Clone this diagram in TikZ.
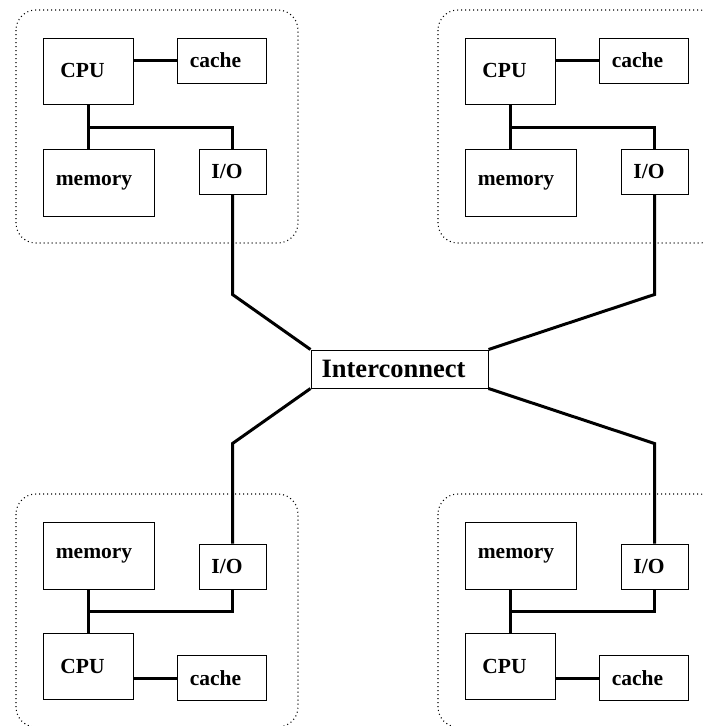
\documentclass[tikz,border=0pt]{standalone}
\usepackage{fontspec}
\setmainfont{Liberation Serif}
\tikzset{
  unit/.style={draw, line width=1pt, inner sep=0pt, font=\fontsize{21.5}{25}\selectfont\bfseries},
  wire/.style={line width=3pt},
  grp/.style={line width=1.1pt, dash pattern=on 1pt off 3pt, rounded corners=20pt},
  clustertop/.pic={
    \draw[grp] (16,10) rectangle (298,243);
    \node[unit, minimum width=90pt, minimum height=66pt] (-cpu) at (88,71) {\raisebox{1pt}{CPU}\kern11pt};
    \node[unit, minimum width=89pt, minimum height=45pt] (-cache) at (221.5,60.5) {cache\kern12pt};
    \node[unit, minimum width=111pt, minimum height=67pt] (-mem) at (98.5,182.5) {memory\kern9pt};
    \node[unit, minimum width=67pt, minimum height=45pt] (-io) at (232.5,171.5) {I/O\kern11pt};
    \draw[wire] (-cache.west) -- (-cache.west -| -cpu.east);
    \draw[wire] (-cpu.south) -- (-cpu.south |- -mem.north);
    \draw[wire] (-cpu.south) ++(0,23) coordinate (-bus) -| (-io.north);
  },
  clusterbot/.pic={
    \draw[grp] (16,494) rectangle (298,727);
    \node[unit, minimum width=90pt, minimum height=66pt] (-cpu) at (88,666.5) {\raisebox{1pt}{CPU}\kern11pt};
    \node[unit, minimum width=89pt, minimum height=45pt] (-cache) at (221.5,678) {cache\kern12pt};
    \node[unit, minimum width=111pt, minimum height=67pt] (-mem) at (98.5,555.5) {memory\kern9pt};
    \node[unit, minimum width=67pt, minimum height=45pt] (-io) at (232.5,566.5) {I/O\kern11pt};
    \draw[wire] (-cache.west) -- (-cache.west -| -cpu.east);
    \draw[wire] (-cpu.north) -- (-cpu.north |- -mem.south);
    \draw[wire] (-cpu.north) ++(0,-22) coordinate (-bus) -| (-io.south);
  }
}
\begin{document}
\begin{tikzpicture}[x=1pt, y=-1pt]
  \useasboundingbox (0,0) rectangle (704,726);
  \clip (0,0) rectangle (704,726);
  \pic (tl) at (0,0) {clustertop};
  \pic (tr) at (422,0) {clustertop};
  \pic (bl) at (0,0) {clusterbot};
  \pic (br) at (422,0) {clusterbot};
  \node[unit, font=\fontsize{26.5}{30}\selectfont\bfseries, minimum width=177pt, minimum height=38pt] (ic) at (399.5,369) {Interconnect\kern12pt};
  \draw[wire] (tl-io.south) -- ++(0,100) -- (ic.north west);
  \draw[wire] (tr-io.south) -- ++(0,100) -- (ic.north east);
  \draw[wire] (bl-io.north) -- ++(0,-100) -- (ic.south west);
  \draw[wire] (br-io.north) -- ++(0,-100) -- (ic.south east);
\end{tikzpicture}
\end{document}
